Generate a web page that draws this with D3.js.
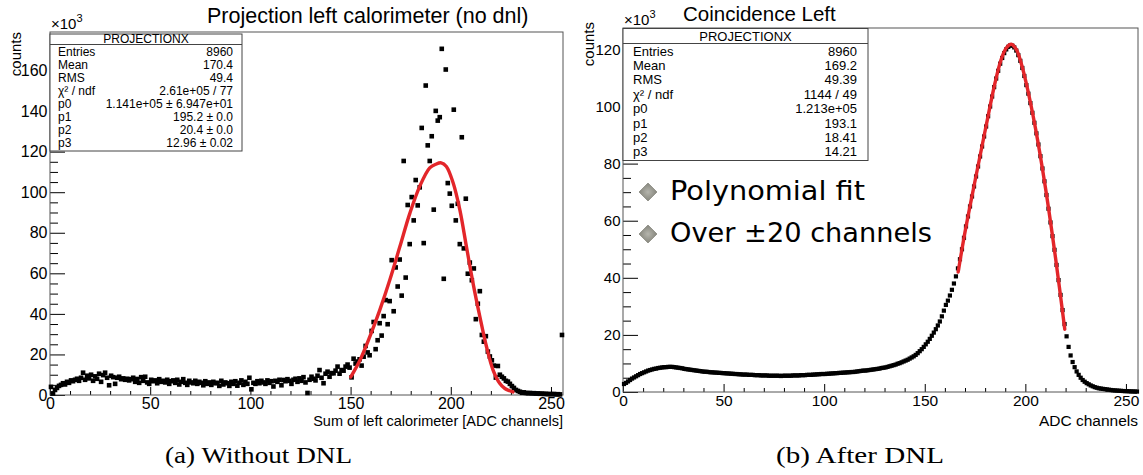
<!DOCTYPE html>
<html>
<head>
<meta charset="utf-8">
<script src="https://cdn.jsdelivr.net/npm/d3@7"></script>
<style>
  body { margin: 0; background: #fff; }
  text { font-family: "Liberation Sans", Arial, Helvetica, sans-serif; fill: #000; }
</style>
</head>
<body>
<svg id="chart" width="1143" height="475"></svg>
<script>
// ---------------- DATA ----------------
const channelRange = [0, 256];            // histogram: 256 bins of 1 ADC channel
const xTickValues = [0, 50, 100, 150, 200, 250];
const leftYTicks = [0, 20, 40, 60, 80, 100, 120, 140, 160];
const rightYTicks = [0, 20, 40, 60, 80, 100, 120];

// counts (x10^3) per channel, left: without DNL correction
const leftCounts = [
  4.0, 0.8, 2.5, 3.5, 4.5, 5.0, 5.8, 5.2, 6.5, 6.0,
  7.2, 6.8, 7.5, 8.0, 7.0, 8.5, 11.0, 7.5, 9.5, 8.2,
  10.0, 7.0, 9.2, 8.0, 10.5, 6.5, 9.8, 11.0, 8.5, 4.8,
  9.5, 8.8, 5.5, 8.5, 9.0, 7.8, 8.2, 7.5, 8.0, 7.2,
  7.8, 8.5, 6.5, 7.9, 6.0, 8.8, 7.0, 9.0, 6.2, 5.5,
  7.5, 6.8, 7.2, 5.8, 7.8, 6.5, 7.0, 6.2, 7.5, 5.5,
  6.8, 7.2, 6.0, 7.5, 5.2, 6.5, 7.8, 6.0, 5.0, 7.0,
  6.2, 5.8, 7.0, 5.5, 6.5, 6.0, 4.8, 6.8, 5.5, 6.2,
  5.0, 6.5, 5.8, 6.0, 4.5, 7.0, 5.2, 6.2, 5.8, 4.5,
  6.5, 5.5, 6.8, 4.6, 6.0, 7.2, 5.0, 6.5, 5.5, 8.5,
  2.8, 6.0, 5.5, 6.8, 5.8, 7.0, 6.2, 5.5, 7.2, 6.0,
  6.8, 4.2, 7.0, 6.5, 7.5, 4.8, 7.4, 6.8, 7.8, 7.0,
  5.5, 7.5, 8.0, 6.5, 8.2, 7.0, 8.8, 6.2, 1.0, 7.5,
  9.0, 8.0, 7.2, 9.5, 12.3, 8.5, 5.8, 10.5, 11.5, 9.0,
  10.8, 10.7, 12.0, 14.0, 10.5, 12.3, 12.0, 14.0, 15.0, 13.5,
  8.7, 17.9, 15.5, 16.5, 17.6, 14.5, 18.9, 24.2, 21.0, 19.6,
  31.6, 36.0, 22.6, 27.0, 35.4, 29.3, 38.9, 46.8, 34.9, 46.3,
  66.5, 41.3, 62.9, 53.5, 66.8, 49.0, 115.4, 57.9, 93.7, 74.4,
  97.6, 86.1, 106.0, 93.5, 102.4, 131.7, 74.9, 152.6, 123.1, 115.4,
  127.6, 91.4, 140.1, 135.3, 137.0, 170.7, 57.3, 160.5, 104.5, 99.3,
  93.3, 140.7, 86.1, 94.3, 74.4, 127.1, 72.3, 96.8, 59.8, 65.3,
  56.6, 62.4, 37.4, 45.0, 51.2, 29.6, 26.3, 29.0, 21.4, 19.0,
  17.1, 14.5, 8.6, 14.3, 10.0, 9.0, 8.2, 7.0, 6.6, 5.5,
  4.4, 3.5, 2.5, 2.0, 1.6, 1.1, 1.3, 1.0, 0.9, 1.0,
  0.8, 0.9, 0.7, 0.8, 0.6, 0.7, 0.5, 0.6, 0.4, 0.5,
  0.4, 0.5, 0.3, 0.4, 0.3, 29.6
];

// counts (x10^3) per channel, right: after DNL correction
const rightCounts = [
  2.8, 3.2, 3.7, 4.2, 4.7, 5.1, 5.5, 5.9, 6.3, 6.6,
  6.9, 7.2, 7.5, 7.7, 7.9, 8.1, 8.2, 8.4, 8.5, 8.6,
  8.7, 8.7, 8.8, 8.8, 8.8, 8.7, 8.6, 8.5, 8.4, 8.3,
  8.1, 8.0, 7.9, 7.8, 7.7, 7.6, 7.5, 7.4, 7.3, 7.2,
  7.1, 7.1, 7.0, 6.9, 6.9, 6.8, 6.8, 6.7, 6.7, 6.6,
  6.6, 6.5, 6.5, 6.4, 6.4, 6.3, 6.3, 6.2, 6.2, 6.1,
  6.1, 6.1, 6.0, 6.0, 6.0, 5.9, 5.9, 5.9, 5.8, 5.8,
  5.8, 5.8, 5.7, 5.7, 5.7, 5.7, 5.7, 5.7, 5.6, 5.7,
  5.7, 5.7, 5.7, 5.7, 5.8, 5.8, 5.8, 5.8, 5.9, 5.9,
  5.9, 6.0, 6.0, 6.0, 6.1, 6.1, 6.2, 6.2, 6.3, 6.3,
  6.3, 6.4, 6.4, 6.5, 6.5, 6.6, 6.6, 6.7, 6.7, 6.8,
  6.8, 6.9, 6.9, 7.0, 7.0, 7.1, 7.2, 7.3, 7.4, 7.5,
  7.5, 7.6, 7.7, 7.8, 7.9, 8.0, 8.1, 8.2, 8.4, 8.5,
  8.6, 8.8, 9.0, 9.2, 9.4, 9.6, 9.9, 10.1, 10.4, 10.7,
  11.0, 11.3, 11.7, 12.1, 12.5, 13.0, 13.6, 14.3, 15.0, 15.8,
  16.7, 17.6, 18.6, 19.7, 20.8, 22.0, 23.3, 24.7, 26.5, 28.5,
  30.5, 32.0, 33.8, 35.8, 38.0, 40.5, 43.3, 46.5, 50.0, 54.0,
  58.0, 61.5, 65.0, 68.5, 72.0, 75.5, 79.0, 82.5, 86.0, 89.5,
  93.0, 96.6, 100.0, 103.5, 106.8, 109.8, 112.5, 115.0, 117.0, 118.7,
  120.0, 120.9, 121.4, 121.3, 120.7, 119.6, 118.0, 116.0, 113.5, 110.7,
  107.5, 104.5, 101.2, 97.8, 94.3, 90.6, 86.7, 82.6, 78.3, 73.8,
  69.0, 64.2, 59.4, 54.6, 49.8, 44.5, 39.2, 34.0, 28.7, 23.8,
  19.5, 15.8, 12.8, 10.5, 8.7, 7.2, 6.0, 5.0, 4.2, 3.6,
  3.1, 2.7, 2.3, 2.0, 1.7, 1.5, 1.3, 1.2, 1.1, 1.0,
  0.9, 0.8, 0.7, 0.6, 0.55, 0.5, 0.45, 0.4, 0.35, 0.3,
  0.3, 0.25, 0.2, 0.2, 0.15, 0.15
];

// fitted curves (channel, counts x10^3)
const leftFitX = [150.1, 154.6, 159.6, 164.6, 169.6, 174.6, 179.6, 184.5, 189.5, 192.5, 195.2, 197.8, 201.2, 204.5, 207.8, 211.1, 214.5, 217.8, 221.1, 224.4, 227.0, 229.4, 231.0];
const leftFitY = [8.9, 17.0, 28.8, 42.0, 56.8, 73.2, 89.7, 102.9, 112.0, 113.8, 114.5, 112.7, 104.5, 91.4, 73.2, 55.2, 38.7, 23.9, 12.3, 5.8, 3.2, 2.1, 1.5];
const rightFitX = [166.6, 170, 175, 180, 185, 188, 190.5, 193, 195.5, 198, 200.5, 205, 210, 215, 219.6];
const rightFitY = [42, 56, 74, 91.5, 108.5, 116.5, 120.5, 121.8, 120, 115, 108, 92.5, 71.5, 47, 22];

const statTitle = "PROJECTIONX";
const statLabels = ["Entries", "Mean", "RMS", "\u03C7\u00B2 / ndf", "p0", "p1", "p2", "p3"];
const leftStatValues = ["8960", "170.4", "49.4", "2.61e+05 / 77", "1.141e+05 \u00B1 6.947e+01", "195.2 \u00B1 0.0", "20.4 \u00B1 0.0", "12.96 \u00B1 0.02"];
const rightStatValues = ["8960", "169.2", "49.39", "1144 / 49", "1.213e+05", "193.1", "18.41", "14.21"];

const leftTitle = "Projection left calorimeter (no dnl)";
const rightTitle = "Coincidence Left";
const leftXTitle = "Sum of left calorimeter [ADC channels]";
const rightXTitle = "ADC channels";
const yTitle = "counts";
const captions = ["(a) Without DNL", "(b) After DNL"];
const notes = ["Polynomial fit", "Over \u00B120 channels"];

// ---------------- DRAW ----------------
const svg = d3.select("#chart");
svg.append("rect").attr("width", 1143).attr("height", 475).attr("fill", "#fff");
const FONT = '"Liberation Sans", Arial, sans-serif';

function drawPanel(p) {
  const g = svg.append("g");
  const x = d3.scaleLinear().domain(channelRange).range([p.left, p.right]);
  const y = d3.scaleLinear().domain([0, p.yMax]).range([p.bottom, p.top]);
  const clipId = "clip" + p.id;
  svg.append("clipPath").attr("id", clipId).append("rect")
    .attr("x", p.left - 3).attr("y", p.top).attr("width", p.right - p.left + 6).attr("height", p.bottom - p.top + 3);

  // minor ticks
  const xMinor = d3.range(0, 256, 10).filter(v => v % 50 !== 0);
  g.append("g").attr("transform", `translate(0,${p.bottom})`)
    .call(d3.axisBottom(x).tickValues(xMinor).tickSizeInner(-4).tickSizeOuter(0).tickFormat(""))
    .call(a => a.select(".domain").remove());
  const yMinor = d3.range(0, p.yMax, 5).filter(v => v % 20 !== 0);
  g.append("g").attr("transform", `translate(${p.left},0)`)
    .call(d3.axisLeft(y).tickValues(yMinor).tickSizeInner(-8).tickSizeOuter(0).tickFormat(""))
    .call(a => a.select(".domain").remove());

  // major ticks + labels
  const xa = g.append("g").attr("transform", `translate(0,${p.bottom})`)
    .call(d3.axisBottom(x).tickValues(xTickValues).tickSizeInner(-8).tickSizeOuter(0).tickPadding(p.xPad).tickFormat(d3.format("d")));
  xa.select(".domain").remove();
  xa.attr("font-size", null).attr("font-family", null);
  xa.selectAll("text").style("font-size", p.xFont + "px").style("font-family", FONT);
  const ya = g.append("g").attr("transform", `translate(${p.left},0)`)
    .call(d3.axisLeft(y).tickValues(p.yTicks).tickSizeInner(-15).tickSizeOuter(0).tickPadding(2.5).tickFormat(d3.format("d")));
  ya.select(".domain").remove();
  ya.attr("font-size", null).attr("font-family", null);
  ya.selectAll("text").style("font-size", p.yFont + "px").style("font-family", FONT);
  g.selectAll(".tick line").attr("stroke", "#000");

  // frame
  g.append("rect").attr("x", p.left).attr("y", p.top)
    .attr("width", p.right - p.left).attr("height", p.bottom - p.top)
    .attr("fill", "none").attr("stroke", "#555").attr("stroke-width", 1);

  // data markers
  const ms = p.marker;
  g.append("g").attr("clip-path", `url(#${clipId})`)
    .selectAll("rect").data(p.counts).join("rect")
    .attr("x", (d, i) => x(i + 0.5) - ms / 2)
    .attr("y", d => y(d) - ms / 2)
    .attr("width", ms).attr("height", ms)
    .attr("fill", "#000");

  // fit curve
  const pts = p.fitX.map((v, i) => [v, p.fitY[i]]);
  g.append("path").datum(pts)
    .attr("d", d3.line().x(d => x(d[0])).y(d => y(d[1])).curve(d3.curveCatmullRom.alpha(0.5)))
    .attr("fill", "none").attr("stroke", "#e3262a").attr("stroke-width", 3.4)
    .attr("stroke-linecap", "round");

  // stat box
  const b = p.box;
  g.append("rect").attr("x", b.x).attr("y", b.y).attr("width", b.w).attr("height", b.h)
    .attr("fill", "#fff").attr("stroke", "#444").attr("stroke-width", 1);
  g.append("line").attr("x1", b.x).attr("x2", b.x + b.w).attr("y1", b.sep).attr("y2", b.sep)
    .attr("stroke", "#444");
  g.append("text").attr("x", b.x + b.w / 2).attr("y", b.titleY).attr("text-anchor", "middle")
    .style("font-size", b.font + "px").text(statTitle);
  statLabels.forEach((lab, i) => {
    g.append("text").attr("x", b.lx).attr("y", b.row0 + i * b.dy)
      .style("font-size", b.font + "px").text(lab);
    g.append("text").attr("x", b.rx).attr("y", b.row0 + i * b.dy).attr("text-anchor", "end")
      .style("font-size", b.font + "px").text(p.statValues[i]);
  });

  // titles
  g.append("text").attr("x", p.titleX).attr("y", p.titleY).style("font-size", p.titleFont + "px").text(p.title);
  const m = g.append("text").attr("x", p.left + 1).attr("y", p.top - 3).style("font-size", "15px");
  m.append("tspan").text("\u00D710");
  m.append("tspan").attr("dy", -7).style("font-size", "11px").text("3");
  g.append("text").attr("transform", `translate(${p.yTitleX},${p.yTitleTop}) rotate(-90)`)
    .attr("text-anchor", "end").style("font-size", p.yTitleFont + "px").text(yTitle);
  g.append("text").attr("x", p.right).attr("y", p.xTitleY).attr("text-anchor", "end")
    .style("font-size", p.xTitleFont + "px").text(p.xTitle);
}

drawPanel({
  id: "L", left: 50, right: 563, top: 32, bottom: 395, yMax: 179,
  yTicks: leftYTicks, counts: leftCounts, fitX: leftFitX, fitY: leftFitY,
  marker: 4.6, xPad: 3, xFont: 16, yFont: 16,
  box: { x: 50, y: 34, w: 192, h: 117, sep: 44.5, titleY: 43, font: 12, lx: 58, rx: 233, row0: 55.5, dy: 13.1 },
  statValues: leftStatValues,
  title: leftTitle, titleX: 207, titleY: 22.5, titleFont: 21.5,
  yTitleX: 21, yTitleTop: 32, yTitleFont: 15,
  xTitle: leftXTitle, xTitleY: 426, xTitleFont: 14.5
});

drawPanel({
  id: "R", left: 623, right: 1138, top: 28, bottom: 392, yMax: 127.5,
  yTicks: rightYTicks, counts: rightCounts, fitX: rightFitX, fitY: rightFitY,
  marker: 4.2, xPad: 3, xFont: 15.5, yFont: 15,
  box: { x: 623, y: 28.5, w: 245, h: 132, sep: 43.5, titleY: 40.5, font: 13, lx: 633, rx: 857, row0: 55.5, dy: 14.4 },
  statValues: rightStatValues,
  title: rightTitle, titleX: 683, titleY: 20.5, titleFont: 20.5,
  yTitleX: 594, yTitleTop: 22, yTitleFont: 15,
  xTitle: rightXTitle, xTitleY: 426, xTitleFont: 15.5
});

// annotation with diamond bullets
const grad = svg.append("defs").append("radialGradient").attr("id", "dg");
grad.append("stop").attr("offset", "0%").attr("stop-color", "#b5b5ad");
grad.append("stop").attr("offset", "100%").attr("stop-color", "#85857c");
const noteY = [200, 242];
const noteW = [195, 262];
notes.forEach((t, i) => {
  const cy = noteY[i] - 8;
  svg.append("path")
    .attr("d", `M648,${cy - 9} L657,${cy} L648,${cy + 9} L639,${cy} Z`)
    .attr("fill", "url(#dg)").attr("stroke", "#8a8a82").attr("stroke-width", 0.8);
  svg.append("text").attr("x", 670).attr("y", noteY[i])
    .attr("textLength", noteW[i]).attr("lengthAdjust", "spacingAndGlyphs")
    .style("font-family", '"DejaVu Sans", sans-serif').style("font-size", "27px").text(t);
});

// sub-captions
const capX = [165, 776];
const capW = [187, 168];
captions.forEach((c, i) => {
  svg.append("text").attr("x", capX[i]).attr("y", 463)
    .attr("textLength", capW[i]).attr("lengthAdjust", "spacingAndGlyphs")
    .style("font-family", '"Liberation Serif", "DejaVu Serif", serif').style("font-size", "24px").text(c);
});
</script>
</body>
</html>
